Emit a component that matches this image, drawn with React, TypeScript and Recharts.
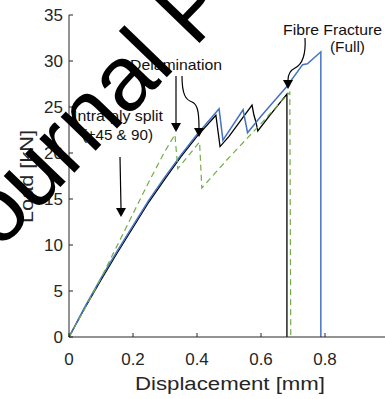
import { LineChart, Line, XAxis, YAxis } from 'recharts';

// displacement [mm] / load [kN] for the three specimens
const blackX = [0, 0.05, 0.1, 0.15, 0.2, 0.25, 0.3, 0.35, 0.4, 0.459, 0.472, 0.5, 0.572, 0.578, 0.584, 0.59, 0.63, 0.681, 0.681];
const blackY = [0, 3.2, 6.2, 9.1, 11.9, 14.7, 17.2, 19.6, 21.8, 24.1, 20.7, 21.8, 25.2, 24.1, 23.4, 22.4, 24.2, 26.4, 0];

const blueX = [0, 0.05, 0.1, 0.15, 0.2, 0.25, 0.3, 0.35, 0.4, 0.469, 0.481, 0.544, 0.558, 0.6, 0.65, 0.68, 0.73, 0.745, 0.787, 0.787];
const blueY = [0, 3.3, 6.4, 9.3, 12.1, 14.9, 17.4, 19.8, 22.0, 24.8, 21.4, 24.7, 22.2, 24.0, 26.0, 27.2, 29.6, 29.7, 31.0, 0];

const greenX = [0, 0.05, 0.1, 0.15, 0.2, 0.25, 0.3, 0.331, 0.34, 0.408, 0.415, 0.5, 0.6, 0.69, 0.693];
const greenY = [0, 3.1, 6.4, 9.9, 13.4, 16.9, 20.2, 22.0, 18.3, 21.2, 16.2, 19.5, 23.2, 26.6, 0];

const xTicks = [0, 0.2, 0.4, 0.6, 0.8];
const yTicks = [0, 5, 10, 15, 20, 25, 30, 35];

const zip = (xs: number[], ys: number[]) => xs.map((x, i) => ({ x, y: ys[i] }));

const axisColor = '#262626';
const font = '"Liberation Sans", Arial, sans-serif';

const Head = ({ x, y }: { x: number; y: number }) => (
  <polygon points={`${x - 5},${y - 9} ${x + 5},${y - 9} ${x},${y}`} fill="#000" />
);

export default function App() {
  return (
    <div style={{ position: 'absolute', left: 0, top: 0, width: 385, height: 399, overflow: 'hidden', background: '#fff' }}>
      <LineChart width={400} height={399} margin={{ top: 15, right: 11, bottom: 32, left: 0 }}>
        <XAxis
          xAxisId="top"
          orientation="top"
          type="number"
          domain={[0, 1]}
          ticks={xTicks}
          height={0}
          tickSize={-4}
          tickFormatter={() => ''}
          stroke={axisColor}
        />
        <XAxis
          dataKey="x"
          type="number"
          domain={[0, 1]}
          ticks={xTicks}
          height={30}
          tickSize={-4}
          tickMargin={20}
          stroke={axisColor}
          tick={{ fill: axisColor, fontSize: 17, fontFamily: font }}
        />
        <YAxis
          dataKey="y"
          type="number"
          domain={[0, 35]}
          ticks={yTicks}
          width={69}
          tickSize={-4}
          tickMargin={10}
          stroke={axisColor}
          tick={{ fill: axisColor, fontSize: 17, fontFamily: font }}
        />
        <Line data={zip(blackX, blackY)} dataKey="y" stroke="#000" strokeWidth={1.3} dot={false} isAnimationActive={false} />
        <Line data={zip(blueX, blueY)} dataKey="y" stroke="#4472c4" strokeWidth={1.5} dot={false} isAnimationActive={false} />
        <Line data={zip(greenX, greenY)} dataKey="y" stroke="#70ad47" strokeWidth={1.2} strokeDasharray="6 4" dot={false} isAnimationActive={false} />
      </LineChart>
      <svg width={385} height={399} style={{ position: 'absolute', left: 0, top: 0 }} fontFamily={font}>
        {/* axis titles */}
        <text x={230} y={390} textAnchor="middle" fontSize={18} fill={axisColor} textLength={190} lengthAdjust="spacingAndGlyphs">Displacement [mm]</text>
        <text x={33} y={176.5} textAnchor="middle" fontSize={18} fill={axisColor} transform="rotate(-90 33 176.5)" textLength={93} lengthAdjust="spacingAndGlyphs">Load [kN]</text>

        {/* annotations */}
        <g fill="#111" fontSize={15}>
          <text x={283} y={35} textLength={99} lengthAdjust="spacingAndGlyphs">Fibre Fracture</text>
          <text x={330} y={52} textLength={35} lengthAdjust="spacingAndGlyphs">(Full)</text>
          <text x={130} y={70} textLength={92} lengthAdjust="spacingAndGlyphs">Delamination</text>
          <text x={73} y={121} textLength={90} lengthAdjust="spacingAndGlyphs">Intra-ply split</text>
          <text x={82} y={140} textLength={71} lengthAdjust="spacingAndGlyphs">(±45 &amp; 90)</text>
        </g>
        <g stroke="#000" strokeWidth={1.2} fill="none">
          <path d="M305 38 C306 55, 303 64, 295 68 C289 71, 288 75, 288 80" />
          <path d="M176 76 L176 123" />
          <path d="M182 76 C182 95, 186 100, 192 102 C197 104, 199 110, 199 128" />
          <path d="M120 157 L121 208" />
        </g>
        <Head x={288} y={89} />
        <Head x={176} y={132} />
        <Head x={199} y={137} />
        <Head x={121} y={217} />

        {/* watermark */}
        <text x={-33} y={284} fontSize={92} fill="#000" transform="rotate(-46 -33 284)">Journal Pre-proof</text>
      </svg>
    </div>
  );
}
